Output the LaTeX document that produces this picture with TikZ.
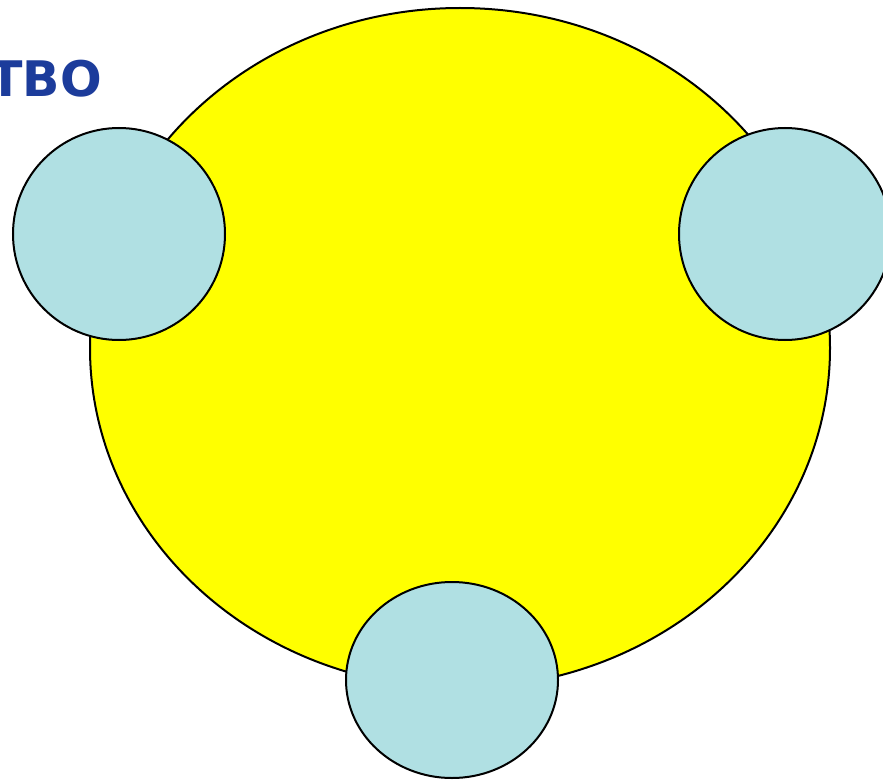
\documentclass[tikz,border=0pt]{standalone}
\usepackage{fontspec}
\newfontfamily\dvs{DejaVu Sans}
\definecolor{sunyellow}{RGB}{255,255,0}
\definecolor{paleblue}{RGB}{176,224,227}
\definecolor{titleblue}{RGB}{28,60,155}
\begin{document}
\begin{tikzpicture}[x=1pt,y=-1pt,
  bigdisc/.style={draw=black,line width=2pt,fill=sunyellow},
  smalldisc/.style={draw=black,line width=2pt,fill=paleblue}]
\useasboundingbox (0,0) rectangle (883,781);
\clip (0,0) rectangle (883,781);
\fill[white] (0,0) rectangle (883,781);
\draw[bigdisc] (460,348) ellipse [x radius=370, y radius=340];
\draw[smalldisc] (119,234) ellipse [x radius=106, y radius=106];
\draw[smalldisc] (785,234) ellipse [x radius=106, y radius=106];
\draw[smalldisc] (452,680) ellipse [x radius=106, y radius=98];
\node[anchor=base east,inner sep=0pt,text=titleblue,font=\dvs\bfseries\fontsize{49}{56}\selectfont] (title) at (102,97) {ТВО};
\end{tikzpicture}
\end{document}
